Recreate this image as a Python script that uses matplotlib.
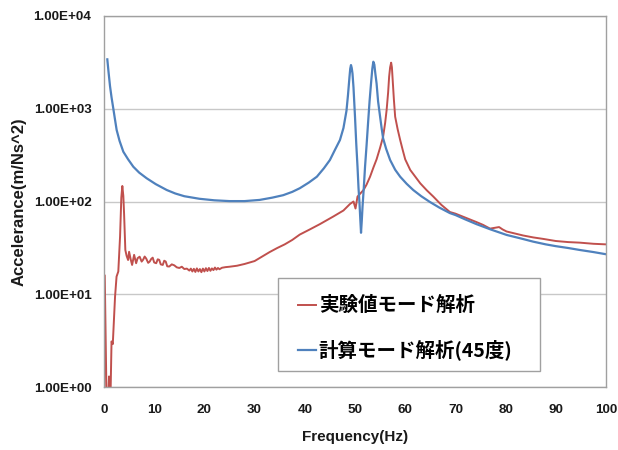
import matplotlib
matplotlib.use('Agg')
import matplotlib.pyplot as plt
from matplotlib.patches import Rectangle

# -------- data -------- #

freq_red = [0.0, 0.15, 0.55, 0.8, 1.0, 1.15, 1.3, 1.5, 1.75, 2.0, 2.2, 2.5, 2.85, 3.2, 3.45, 3.65, 3.85, 4.0, 4.25,
            4.5, 4.8, 5.0, 5.3, 5.6, 6.0, 6.4, 6.7, 7.1, 7.5, 7.8, 8.1, 8.4, 8.8, 9.1, 9.4, 9.7, 10.0,
            10.4, 10.7, 11.0, 11.3, 11.7, 12.0, 12.3, 12.6, 13.0, 13.5, 14.0, 14.5, 15.0, 15.5, 16.0, 16.5,
            17.0, 17.3, 17.6, 17.9, 18.2, 18.5, 18.8, 19.1, 19.4, 19.7, 20.0, 20.3, 20.6, 20.9, 21.2, 21.5,
            21.8, 22.1, 22.4, 22.7, 23.0, 23.5, 24.2, 25.0, 26.5, 28.0, 30.0, 31.5, 33.0, 34.5, 36.0, 37.5,
            39.0, 41.0, 43.0, 45.7, 47.7, 49.0, 49.7, 50.1, 50.5, 51.0, 51.7, 52.3, 53.0, 53.7, 54.3, 55.0,
            55.6, 56.0, 56.3, 56.6, 56.8, 57.0, 57.2, 57.35, 57.5, 57.75, 58.0, 58.5, 59.0, 59.5, 60.0, 61.0,
            62.0, 63.0, 64.3, 65.6, 67.2, 68.9, 70.0, 72.0, 74.2, 75.5, 76.9, 77.8, 78.7, 79.4, 80.2, 82.0,
            83.5, 85.5, 87.5, 90.0, 92.5, 94.8, 97.5, 100.0]
acc_red = [0.5, 16, 0.5, 0.6, 1.3, 0.6, 0.8, 3.1, 2.9, 5.5, 9.4, 15.5, 17.6, 42, 110, 147, 115, 74, 30,
           26, 23.4, 28.7, 24, 20.7, 26.6, 21.6, 24.5, 25.4, 22.5, 23.6, 25.5, 24.3, 21.8, 22.5, 24.0, 24.8, 22.0,
           21.6, 23.8, 23.5, 21.0, 20.7, 23.0, 22.5, 20.0, 19.9, 21.0, 20.5, 19.5, 19.2, 19.8, 18.7, 18.9,
           18.0, 18.9, 17.6, 18.8, 17.4, 19.0, 17.6, 18.7, 17.3, 18.9, 17.6, 19.1, 17.8, 19.2, 17.9, 19.0,
           18.2, 19.4, 18.4, 19.2, 18.6, 19.3, 19.6, 19.8, 20.3, 21.2, 22.8, 25.5, 28.5, 31.5, 34.5, 38.5,
           44, 50, 57, 69, 80, 94, 100, 84, 113, 121, 133, 152, 185, 235, 285, 380,
           500, 700, 970, 1500, 2220, 2800, 3140, 2800, 2040, 1250, 820, 600, 460, 360, 285, 219,
           185, 157, 132, 113, 92, 77, 74, 67, 60, 56, 51, 52, 53, 50, 47.5, 45,
           43, 41, 39.5, 37.5, 36.5, 36, 35, 34.5]

freq_blue = [0.66, 0.9, 1.2, 1.5, 1.86, 2.2, 2.52, 3.1, 3.85, 4.8, 5.84, 7.0, 8.5, 10.3, 12.5, 14.2, 16.0,
             19.0, 22.0, 25.0, 28.0, 31.0, 33.5, 35.7, 37.5, 39.0, 40.8, 42.4, 43.8, 45.0, 46.0, 47.0, 47.7,
             48.3, 48.6, 48.9, 49.05, 49.2, 49.35, 49.5, 49.7, 50.0, 50.25, 50.5, 50.7, 50.9, 51.05, 51.2,
             51.35, 51.5, 51.75, 52.0, 52.3, 52.6, 52.9, 53.2, 53.45, 53.65, 53.85, 54.05, 54.3, 54.6, 55.0,
             55.3, 55.6, 56.2, 57.0, 58.0, 59.0, 60.3, 61.6, 63.2, 64.9, 66.8, 68.9, 70.0, 72.0, 74.2, 77.0,
             80.2, 83.0, 85.5, 88.0, 90.0, 92.5, 94.8, 97.5, 100.0]
acc_blue = [3410, 2500, 1750, 1330, 1000, 760, 590, 450, 344, 285, 237, 205, 178, 154, 133, 122, 114,
            107, 103, 101, 101, 104, 110, 117, 127, 139, 160, 185, 228, 280, 360, 460, 620,
            950, 1400, 2200, 2700, 2960, 2750, 2400, 1700, 820, 420, 237, 140, 95, 65, 46,
            62, 88, 140, 237, 400, 700, 1200, 1900, 2700, 3215, 3000, 2400, 1870, 1200, 820,
            620, 480, 370, 280, 220, 185, 155, 133, 114, 99, 86, 75, 71.5, 64, 57, 50,
            43.6, 40, 36.9, 34.5, 33, 31.5, 30, 28.5, 27]

labels = ['実験値モード解析', '計算モード解析(45度)']
y_ticks = [1, 10, 100, 1000, 10000]
y_tick_labels = ['1.00E+00', '1.00E+01', '1.00E+02', '1.00E+03', '1.00E+04']
x_ticks = list(range(0, 101, 10))

# -------- figure -------- #

fig = plt.figure(figsize=(6.18, 4.5), dpi=100)
ax = fig.add_axes([104 / 618, 63 / 450, 502 / 618, 371 / 450])

ax.plot(freq_red, acc_red, color='#C0504D', lw=1.4, label=labels[0])
ax.plot(freq_blue, acc_blue, color='#4F81BD', lw=1.6, label=labels[1])

ax.set_yscale('log')
ax.set_xlim(0, 100)
ax.set_ylim(1, 10000)
ax.minorticks_off()
ax.set_yticks(y_ticks)
ax.set_yticklabels(y_tick_labels)
ax.set_xticks(x_ticks)
ax.grid(axis='y', color='#C8C8C8', lw=1.0)
ax.set_axisbelow(True)
for s in ax.spines.values():
    s.set_color('#A0A0A0')
    s.set_linewidth(1.0)

ax.tick_params(length=0)
ax.tick_params(axis='y', pad=9)
ax.tick_params(axis='x', pad=12)
for t in ax.get_xticklabels() + ax.get_yticklabels():
    t.set_fontfamily('Liberation Sans')
    t.set_fontweight('bold')
    t.set_fontsize(9.7)
    t.set_color('#1a1a1a')

ax.set_xlabel('Frequency(Hz)', family='Liberation Sans', weight='bold', size=11, color='#1a1a1a', labelpad=10)
ax.set_ylabel('Accelerance(m/Ns^2)', family='Liberation Sans', weight='bold', size=12, color='#1a1a1a', labelpad=5)

# legend box drawn as its own frame, entries placed inside
ax.add_patch(Rectangle((0.3466, 0.0418), 0.5219, 0.252, transform=ax.transAxes,
                       facecolor='white', edgecolor='#A0A0A0', lw=1.0, zorder=3))
leg = ax.legend(loc='center left', bbox_to_anchor=(0.3865, 0.158), frameon=False,
                borderpad=0, borderaxespad=0, handlelength=0.95, handletextpad=0.12,
                labelspacing=1.25,
                prop=dict(family=['Noto Sans CJK JP', 'DejaVu Sans'], weight='bold', size=14))
leg.set_zorder(4)

fig.savefig('out.png', dpi=100)
